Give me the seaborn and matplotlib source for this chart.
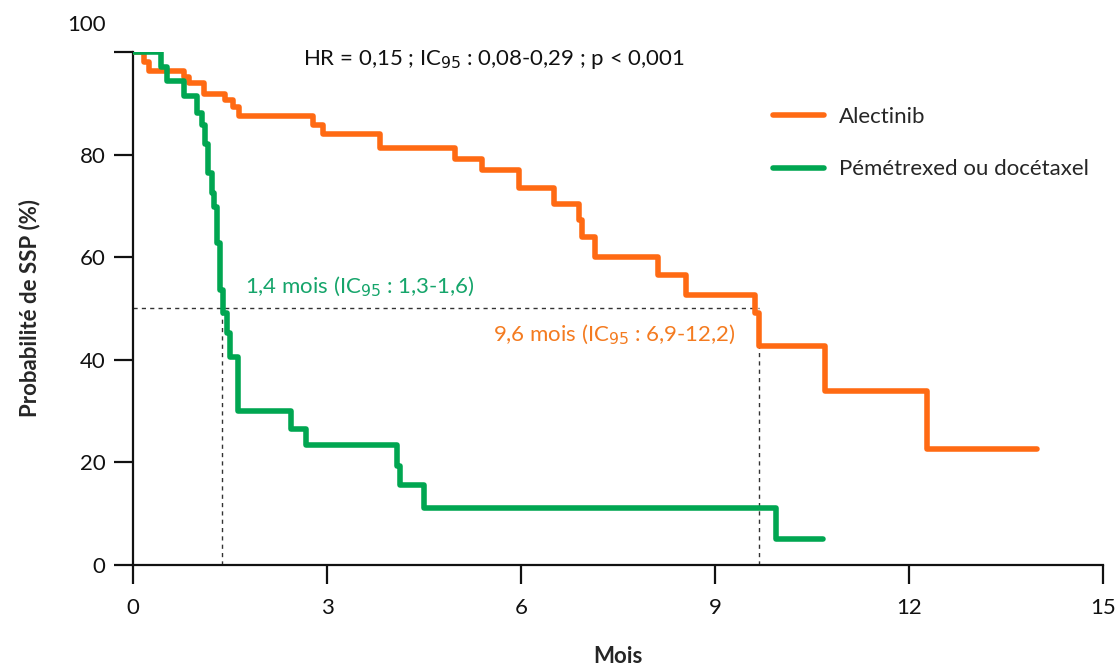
import numpy as np
import pandas as pd
import matplotlib
matplotlib.use("Agg")
import matplotlib.pyplot as plt
import seaborn as sns
from matplotlib.lines import Line2D

# ---- data ----
alec_t = [0, 0.16, 0.24, 0.78, 0.86, 1.09, 1.42, 1.55, 1.63, 2.78, 2.94, 3.82,
          4.98, 5.39, 5.96, 6.50, 6.89, 6.94, 7.14, 8.12, 8.54, 9.62, 9.68,
          10.70, 12.27, 13.97]
alec_s = [100, 98.1, 96.2, 95.1, 93.9, 91.9, 90.6, 89.3, 87.6, 85.8, 84.0, 81.3,
          79.1, 77.0, 73.4, 70.3, 67.3, 64.0, 60.1, 56.5, 52.7, 49.1, 42.7,
          34.0, 22.7, 22.7]
chemo_t = [0, 0.43, 0.52, 0.79, 0.99, 1.06, 1.11, 1.16, 1.22, 1.25, 1.29, 1.35,
           1.39, 1.45, 1.50, 1.62, 2.44, 2.67, 4.08, 4.13, 4.49, 9.94, 10.67]
chemo_s = [100, 97.1, 94.3, 91.4, 88.2, 85.8, 82.0, 76.5, 72.5, 69.8, 62.8, 53.6,
           49.1, 45.2, 40.6, 30.0, 26.6, 23.3, 19.2, 15.5, 11.1, 5.0, 5.0]
arms = ["Alectinib", "Pémétrexed ou docétaxel"]
medians = [9.67, 1.38]
x_ticks = [0, 3, 6, 9, 12, 15]
y_ticks = [0, 20, 40, 60, 80, 100]

ORANGE = "#FF6A13"
GREEN = "#00A651"
ORANGE_TXT = "#F47B20"
GREEN_TXT = "#16A56B"

df = pd.concat([
    pd.DataFrame({"t": alec_t, "s": alec_s, "arm": arms[0]}),
    pd.DataFrame({"t": chemo_t, "s": chemo_s, "arm": arms[1]}),
], ignore_index=True)

sns.set_theme(style="white")
plt.rcParams["font.family"] = ["Lato", "DejaVu Sans"]

fig = plt.figure(figsize=(11.19, 6.71), dpi=100)
ax = fig.add_axes([0.119, 0.158, 0.867, 0.7645])

# median reference lines
ax.plot([0, medians[0]], [50, 50], color="#333333", lw=1.0, ls=(0, (3, 3)), zorder=1)
for m in medians:
    ax.plot([m, m], [0, 50], color="#333333", lw=1.0, ls=(0, (3, 3)), zorder=1)

sns.lineplot(data=df, x="t", y="s", hue="arm", palette=[ORANGE, GREEN],
             hue_order=arms, estimator=None, sort=False, drawstyle="steps-post",
             lw=4, legend=False, ax=ax, zorder=3)
for ln in ax.get_lines()[-1:]:
    ln.set_zorder(4)

ax.set_xlim(0, 15)
ax.set_ylim(0, 100)
ax.set_xticks(x_ticks)
ax.set_xticklabels([str(v) for v in x_ticks])
ax.set_yticks(y_ticks)
ax.set_yticklabels([str(v) if v != 100 else "" for v in y_ticks])
ax.annotate("100", xy=(0, 100), xycoords="data", xytext=(-20, 19.5),
            textcoords="offset points", ha="right", va="center", fontsize=16,
            color="#111111", annotation_clip=False)

for side in ["top", "right"]:
    ax.spines[side].set_visible(False)
for side in ["left", "bottom"]:
    ax.spines[side].set_linewidth(1.6)
    ax.spines[side].set_color("#111111")
ax.tick_params(axis="both", direction="out", length=14, width=1.6,
               color="#111111", labelsize=16, labelcolor="#111111",
               bottom=True, left=True)
ax.tick_params(axis="y", pad=6)
ax.tick_params(axis="x", pad=10)

ax.set_xlabel("Mois", fontsize=16, fontweight="bold", labelpad=20)
ax.set_ylabel("Probabilité de SSP (%)", fontsize=16, fontweight="bold", labelpad=28)

ax.text(5.57, 98.6, "HR = 0,15 ; IC$_{95}$ : 0,08-0,29 ; p < 0,001", ha="center",
        va="center", fontsize=16, color="#111111")
ax.text(1.73, 54.2, "1,4 mois (IC$_{95}$ : 1,3-1,6)", ha="left", va="center",
        fontsize=16, color=GREEN_TXT)
ax.text(9.31, 44.8, "9,6 mois (IC$_{95}$ : 6,9-12,2)", ha="right", va="center",
        fontsize=16, color=ORANGE_TXT)

handles = [Line2D([0], [0], color=ORANGE, lw=4),
           Line2D([0], [0], color=GREEN, lw=4)]
ax.legend(handles, arms, loc="upper left", bbox_to_anchor=(0.65, 0.91),
          frameon=False, fontsize=16, handlelength=2.3, handletextpad=0.7,
          labelspacing=1.45, borderaxespad=0)

fig.savefig("out.png", dpi=100, facecolor="white")
